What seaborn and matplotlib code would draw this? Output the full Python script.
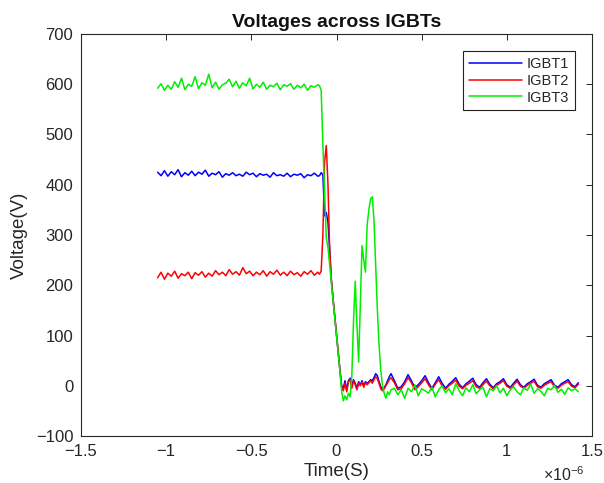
import numpy as np
import pandas as pd
import matplotlib
matplotlib.use("Agg")
import matplotlib.pyplot as plt
import seaborn as sns

# ---------------- data (time in microseconds, voltage in V) ----------------
# segment A: -1.05 .. -0.11 us (step 0.02), segment B: -0.10 .. 0.32 us (step 0.01),
# segment C: 0.34 .. 1.42 us (step 0.02)
time_a = np.round(np.arange(-1.05, -0.10, 0.02), 2)
time_b = np.round(np.arange(-0.10, 0.325, 0.01), 2)
time_c = np.round(np.arange(0.34, 1.425, 0.02), 2)

igbt1_a = [425, 418, 428, 417, 426, 420, 430, 416, 424, 419,
           427, 418, 425, 421, 429, 417, 423, 420, 426, 415,
           422, 419, 424, 418, 421, 417, 425, 420, 423, 416,
           422, 419, 421, 415, 424, 418, 420, 417, 423, 416,
           421, 419, 422, 414, 420, 418, 423, 417]
igbt2_a = [215, 226, 212, 224, 218, 228, 214, 223, 219, 226,
           213, 225, 220, 227, 216, 224, 218, 229, 221, 226,
           219, 231, 222, 227, 220, 235, 223, 228, 219, 226,
           221, 229, 218, 227, 222, 230, 220, 226, 219, 228,
           221, 225, 218, 227, 222, 229, 220, 226]
igbt3_a = [592, 601, 588, 598, 590, 605, 594, 612, 589, 600,
           596, 615, 591, 603, 598, 620, 593, 604, 590, 599,
           602, 610, 595, 606, 592, 603, 597, 612, 591, 600,
           594, 604, 590, 598, 595, 602, 589, 599, 596, 601,
           590, 598, 593, 600, 588, 597, 594, 599]

igbt1_b = [418, 424, 420, 338, 345, 325, 270, 210, 172, 137,
           102, 66, 31, 0, -5, 10, -8, 10, 15, 0,
           12, 5, -5, 8, 2, 10, 0, 8, 5, 8,
           12, 10, 16, 24, 20, 8, -2, -8, -4, 2,
           10, 18, 24]
igbt2_b = [222, 228, 300, 445, 478, 400, 270, 210, 172, 137,
           102, 66, 30, -2, -10, 5, -12, 8, 12, -5,
           10, 2, -8, 5, 0, 8, -3, 6, 2, 6,
           10, 5, 12, 18, 14, 4, -6, -10, -6, 0,
           6, 12, 16]
igbt3_b = [597, 588, 480, 390, 295, 275, 240, 205, 170, 135,
           100, 65, 30, -10, -30, -20, -28, -15, -22, 20,
           130, 208, 120, 47, 160, 279, 250, 226, 320, 350,
           372, 376, 330, 240, 150, 80, 30, 0, -15, -25,
           -12, -18, -8]

igbt1_c = [10, -5, -2, 8, 22, 10, -4, 2, 10, 20,
           6, -5, 6, 18, 5, -5, 3, 9, 16, 3,
           -4, 4, 9, 15, 2, -3, 6, 14, 3, -4,
           4, 8, 14, 2, -3, 5, 13, 2, -3, 4,
           8, 13, 1, -3, 4, 8, 12, 1, -3, 4,
           8, 12, 2, -2, 6]
igbt2_c = [6, -8, -6, 4, 16, 6, -8, -2, 6, 14,
           2, -8, 3, 12, 0, -7, 0, 5, 11, -1,
           -6, 1, 5, 10, -2, -5, 2, 9, 0, -6,
           1, 5, 10, -1, -5, 2, 9, -1, -5, 1,
           5, 9, -2, -5, 1, 5, 8, -2, -5, 1,
           5, 8, -1, -4, 3]
igbt3_c = [-5, -18, -8, -25, -5, -12, 2, -20, -6, -10,
           -15, -3, -22, -8, 0, -14, -6, -18, 4, -10,
           -20, -4, -12, 2, -16, -8, -3, -22, -6, -10,
           0, -14, -5, -20, -8, -2, -12, -18, -4, -9,
           3, -15, -6, -11, -20, -5, -8, 1, -13, -7,
           -17, -4, -10, -6, -12]

series_names = ["IGBT1", "IGBT2", "IGBT3"]
series_colors = ["#0000ff", "#ff0000", "#00ee00"]
xtick_values = [-1.5, -1.0, -0.5, 0.0, 0.5, 1.0, 1.5]
xtick_labels = ["\u22121.5", "\u22121", "\u22120.5", "0", "0.5", "1", "1.5"]
ytick_values = [-100, 0, 100, 200, 300, 400, 500, 600, 700]
ytick_labels = ["\u2212100", "0", "100", "200", "300", "400", "500", "600", "700"]

# ---------------- build long-form table ----------------
time_us = np.concatenate([time_a, time_b, time_c])
values = {
    "IGBT1": igbt1_a + igbt1_b + igbt1_c,
    "IGBT2": igbt2_a + igbt2_b + igbt2_c,
    "IGBT3": igbt3_a + igbt3_b + igbt3_c,
}
frames = []
for name in series_names:
    frames.append(pd.DataFrame({"time": time_us * 1e-6,
                                "voltage": values[name],
                                "series": name}))
df = pd.concat(frames, ignore_index=True)

# ---------------- style ----------------
sns.set_theme(style="white")
plt.rcParams["font.family"] = ["Liberation Sans", "DejaVu Sans"]
plt.rcParams["mathtext.fontset"] = "custom"
plt.rcParams["mathtext.rm"] = "Liberation Sans"
plt.rcParams["mathtext.it"] = "Liberation Sans"

fig = plt.figure(figsize=(6.04, 4.83), dpi=100)
ax = fig.add_axes([81 / 604, 1 - 436 / 483, 511 / 604, 402 / 483])

sns.lineplot(data=df, x="time", y="voltage", hue="series",
             hue_order=series_names, palette=series_colors,
             estimator=None, sort=True, linewidth=1.1, ax=ax)

ax.set_xlim(-1.5e-6, 1.5e-6)
ax.set_ylim(-100, 700)
ax.set_xticks([v * 1e-6 for v in xtick_values])
ax.set_xticklabels(xtick_labels)
ax.set_yticks(ytick_values)
ax.set_yticklabels(ytick_labels)

ax.tick_params(direction="in", top=True, right=True, length=4, width=0.7,
               labelsize=12, colors="#262626")
ax.tick_params(axis="x", pad=6)
ax.tick_params(axis="y", pad=5.5)
for sp in ax.spines.values():
    sp.set_visible(True)
    sp.set_color("#262626")
    sp.set_linewidth(0.8)

ax.set_xlabel("Time(S)", fontsize=13.5, color="#262626", labelpad=3)
ax.set_ylabel("Voltage(V)", fontsize=13.5, color="#262626", labelpad=6)
ax.set_title("Voltages across IGBTs", fontsize=14, fontweight="bold",
             color="#111111", pad=5)
ax.text(0.945, -0.096, r"$\times10^{-6}$", transform=ax.transAxes,
        ha="center", va="center", fontsize=11.5, color="#262626")

leg = ax.legend(loc="upper right", bbox_to_anchor=(0.967, 0.958),
                fancybox=False, frameon=True, edgecolor="#222222",
                framealpha=1, fontsize=10.5, handlelength=3.6,
                labelspacing=0.2, borderpad=0.4, handletextpad=0.35,
                borderaxespad=0)
leg.get_frame().set_linewidth(0.8)

fig.savefig("out.png", dpi=100)
